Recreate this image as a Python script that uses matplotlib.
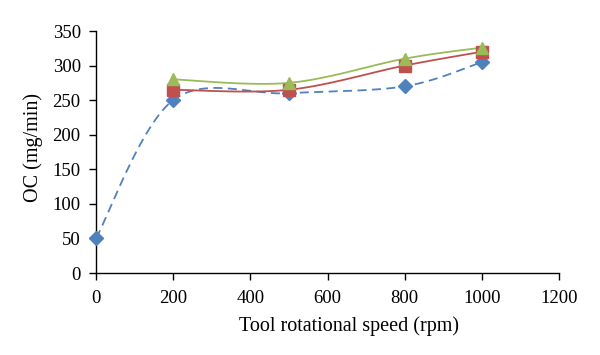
import numpy as np
import matplotlib
matplotlib.use("Agg")
import matplotlib.pyplot as plt

speed_blue = [0, 200, 500, 800, 1000]
oc_blue = [50, 250, 260, 270, 305]
speed_red = [200, 500, 800, 1000]
oc_red = [265, 265, 300, 320]
speed_green = [200, 500, 800, 1000]
oc_green = [280, 275, 310, 326]
x_ticks = [0, 200, 400, 600, 800, 1000, 1200]
y_ticks = [0, 50, 100, 150, 200, 250, 300, 350]

plt.rcParams['font.family'] = ['Liberation Serif', 'DejaVu Serif']


def smooth(xs, ys, n=40):
    P = np.column_stack([xs, ys]).astype(float)
    m = len(P)
    out = [P[0]]
    for i in range(m - 1):
        p0 = P[i - 1] if i > 0 else P[i]
        p1 = P[i]
        p2 = P[i + 1]
        p3 = P[i + 2] if i + 2 < m else P[i + 1]
        c1 = p1 + (p2 - p0) / 6
        c2 = p2 - (p3 - p1) / 6
        t = np.linspace(0, 1, n)[1:, None]
        seg = ((1 - t) ** 3) * p1 + 3 * ((1 - t) ** 2) * t * c1 + 3 * (1 - t) * t ** 2 * c2 + t ** 3 * p2
        out.extend(seg)
    out = np.array(out)
    return out[:, 0], out[:, 1]


fig = plt.figure(figsize=(6, 3.55), dpi=100)
ax = fig.add_axes([96 / 600, 1 - 273 / 355, 463 / 600, 242 / 355])

blue, red, green = '#4F81BD', '#C0504D', '#9BBB59'

sx, sy = smooth(speed_blue, oc_blue)
ax.plot(sx, sy, color=blue, lw=1.3, ls=(0, (5, 3)))
ax.plot(speed_blue, oc_blue, ls='none', marker='D', ms=7.5, color=blue, clip_on=False, zorder=5)
sx, sy = smooth(speed_red, oc_red)
ax.plot(sx, sy, color=red, lw=1.3)
ax.plot(speed_red, oc_red, ls='none', marker='s', ms=8.5, color=red, clip_on=False, zorder=5)
sx, sy = smooth(speed_green, oc_green)
ax.plot(sx, sy, color=green, lw=1.3)
ax.plot(speed_green, oc_green, ls='none', marker='^', ms=9, color=green, clip_on=False, zorder=6)

ax.set_xlim(0, 1200)
ax.set_ylim(0, 350)
ax.set_xticks(x_ticks)
ax.set_yticks(y_ticks)
for s in ['top', 'right']:
    ax.spines[s].set_visible(False)
ax.tick_params(direction='out', length=5, labelsize=13.5, width=1)
ax.tick_params(axis='x', pad=7)
ax.tick_params(axis='y', pad=6)
ax.spines['left'].set_linewidth(1)
ax.spines['bottom'].set_linewidth(1)
ax.set_xlabel('Tool rotational speed (rpm)', fontsize=14.5, labelpad=7, x=0.546)
ax.set_ylabel('OC (mg/min)', fontsize=14.5, labelpad=7, y=0.52)

fig.savefig('out.png', dpi=100)
